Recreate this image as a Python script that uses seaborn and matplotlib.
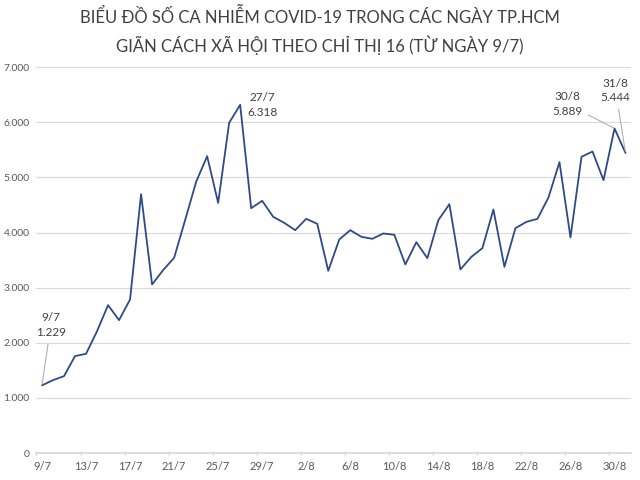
import numpy as np
import pandas as pd
import seaborn as sns
import matplotlib.pyplot as plt
from matplotlib.ticker import FuncFormatter, FixedLocator

# Số ca nhiễm mỗi ngày, 9/7 -> 31/8
days = [f"{d}/7" for d in range(9, 32)] + [f"{d}/8" for d in range(1, 32)]
cases = [1229, 1324, 1396, 1760, 1801, 2212, 2684, 2412, 2787, 4697,
         3059, 3319, 3542, 4226, 4921, 5386, 4540, 5991, 6318,
         4443, 4576, 4286, 4177, 4044, 4250, 4159, 3307, 3875, 4044,
         3924, 3887, 3984, 3960, 3422, 3826, 3536, 4226, 4515, 3331,
         3560, 3718, 4419, 3379, 4080, 4195, 4250, 4637, 5277, 3912,
         5374, 5471, 4951, 5889, 5444]
callouts = ["9/7", "27/7", "30/8", "31/8"]
yticks = [0, 1000, 2000, 3000, 4000, 5000, 6000, 7000]

df = pd.DataFrame({"idx": range(len(days)), "day": days, "cases": cases})

sns.set_theme(style="white")
plt.rcParams["font.family"] = ["Lato", "DejaVu Sans"]

fig = plt.figure(figsize=(6.4, 4.8), dpi=100)
ax = fig.add_axes([0.057, 0.056, 0.929, 0.804])

sns.lineplot(data=df, x="idx", y="cases", ax=ax, color="#2E4A87", linewidth=1.3)

ax.set_xlim(-0.5, len(days) - 0.5)
ax.set_ylim(0, 7000)
ax.set_yticks(yticks)
ax.yaxis.set_major_formatter(FuncFormatter(lambda v, p: f"{int(v):,}".replace(",", ".")))
ax.yaxis.grid(True, color="#d9d9d9", linewidth=0.8)
ax.set_axisbelow(True)

lbl_idx = list(range(0, len(days), 4))
ax.set_xticks(lbl_idx)
ax.set_xticklabels([days[i] for i in lbl_idx])
ax.xaxis.set_minor_locator(FixedLocator([i - 0.5 for i in lbl_idx]))
ax.tick_params(axis="x", which="major", length=0, pad=6, labelsize=8, labelcolor="#595959")
ax.tick_params(axis="x", which="minor", length=3, direction="inout", color="#d9d9d9", bottom=True)
ax.tick_params(axis="y", length=0, pad=5, labelsize=7.5, labelcolor="#595959")
ax.set_xlabel("")
ax.set_ylabel("")
for s in ["top", "right", "left"]:
    ax.spines[s].set_visible(False)
ax.spines["bottom"].set_color("#d9d9d9")

# chú thích các điểm
text_pos = {"9/7": (0.8, 2320), "27/7": (20.0, 6310), "30/8": (47.7, 6330), "31/8": (52.1, 6580)}
leader = {"9/7": True, "27/7": False, "30/8": True, "31/8": True}
for d in callouts:
    i = days.index(d)
    v = cases[i]
    label = d + "\n" + f"{v:,}".replace(",", ".")
    props = dict(arrowstyle="-", color="#a6a6a6", lw=0.7, shrinkA=2, shrinkB=1) if leader[d] else None
    ax.annotate(label, xy=(i, v), xytext=text_pos[d], ha="center", va="center",
                fontsize=8.5, color="#404040", linespacing=1.4, arrowprops=props)

fig.text(0.5, 0.935, "BIỂU ĐỒ SỐ CA NHIỄM COVID-19 TRONG CÁC NGÀY TP.HCM\nGIÃN CÁCH XÃ HỘI THEO CHỈ THỊ 16 (TỪ NGÀY 9/7)",
         ha="center", va="center", fontsize=12, color="#404040", linespacing=1.6)

fig.savefig("out.png", dpi=100)
